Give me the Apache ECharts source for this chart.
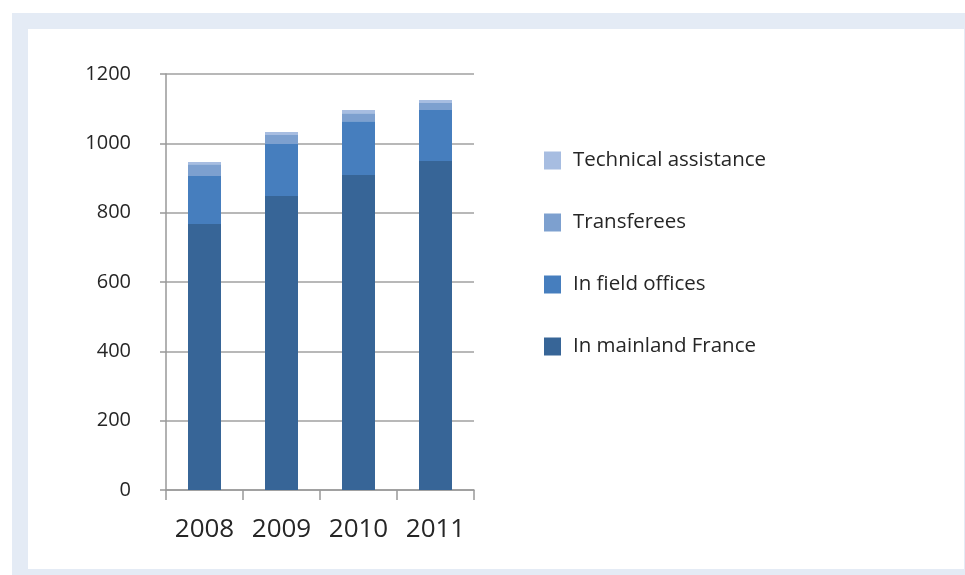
<!DOCTYPE html>
<html><head><meta charset="utf-8">
<script src="https://cdn.jsdelivr.net/npm/echarts@6/dist/echarts.min.js"></script>
<style>html,body{margin:0;padding:0;background:#fff}#c{width:965px;height:575px}</style>
</head><body><div id="c"></div>
<script>
var years = ['2008', '2009', '2010', '2011'];
var mainland = [767, 848, 909, 949];
var fieldOffices = [139, 150, 155, 147];
var transferees = [34, 26, 23, 20];
var technical = [6, 9, 9, 9];
var yTicks = [0, 200, 400, 600, 800, 1000, 1200];
var seriesNames = ['In mainland France', 'In field offices', 'Transferees', 'Technical assistance'];
var colors = ['#376597', '#467EBE', '#7DA0CF', '#A7BDE1'];

var chart = echarts.init(document.getElementById('c'), null, {renderer: 'canvas'});
var font = '"Open Sans", "Noto Sans", sans-serif';
var dataArr = [mainland, fieldOffices, transferees, technical];
var series = seriesNames.map(function (n, i) {
  return {
    name: n, type: 'bar', stack: 'total', barWidth: 33,
    itemStyle: {color: colors[i]}, data: dataArr[i]
  };
});
chart.setOption({
  animation: false,
  textStyle: {fontFamily: font},
  graphic: [
    {type: 'rect', silent: true, z: -10, shape: {x: 12, y: 13, width: 953, height: 562}, style: {fill: '#E4EBF5'}},
    {type: 'rect', silent: true, z: -9, shape: {x: 28, y: 29, width: 936, height: 540}, style: {fill: '#FFFFFF'}}
  ],
  grid: {left: 166, right: 491, top: 74, bottom: 85, containLabel: false},
  legend: {
    orient: 'vertical', left: 544, top: 150, padding: 0,
    data: seriesNames.slice().reverse(),
    itemWidth: 17, itemHeight: 18, itemGap: 41, icon: 'rect',
    textStyle: {fontFamily: font, fontSize: 20.5, color: '#262626', lineHeight: 18, padding: [0, 0, 0, 7]}
  },
  xAxis: {
    type: 'category', data: years,
    axisLine: {lineStyle: {color: '#999', width: 1.5}},
    axisTick: {show: true, interval: 0, length: 10, lineStyle: {color: '#999', width: 1.5}},
    axisLabel: {interval: 0, fontSize: 26, color: '#262626', margin: 27, fontFamily: font}
  },
  yAxis: {
    type: 'value', min: yTicks[0], max: yTicks[yTicks.length - 1], interval: 200,
    axisLine: {show: true, lineStyle: {color: '#999', width: 1.5}},
    axisTick: {show: true, length: 6, lineStyle: {color: '#999', width: 1.5}},
    axisLabel: {fontSize: 20, color: '#262626', margin: 35, fontFamily: font,
      formatter: function (v) { return String(v); }},
    splitLine: {lineStyle: {color: '#A0A0A0', width: 1.5}}
  },
  series: series
});
</script></body></html>
